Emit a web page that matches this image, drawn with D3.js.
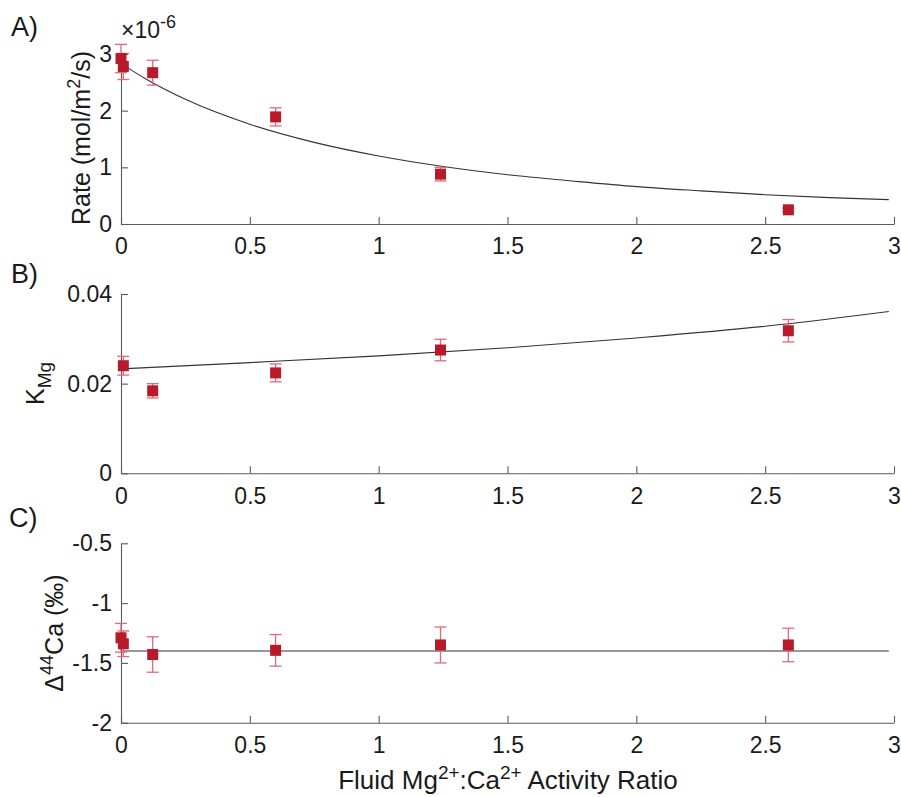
<!DOCTYPE html>
<html>
<head>
<meta charset="utf-8">
<script src="https://cdn.jsdelivr.net/npm/d3@7"></script>
<style>
  html, body { margin: 0; padding: 0; background: #fff; }
  svg text { font-family: "Liberation Sans", Arial, Helvetica, sans-serif; fill: #1a1a1a; }
</style>
</head>
<body>
<svg id="chart" width="901" height="797"></svg>
<script>
// Fluid Mg:Ca activity ratio for each experiment
const ratioA = [0, 0.009, 0.123, 0.60, 1.24, 2.59];
const ratioB = [0.009, 0.123, 0.60, 1.24, 2.59];
const ratioC = [0, 0.009, 0.123, 0.60, 1.24, 2.59];

// A) precipitation rate, units of 1e-6 mol/m2/s
const rateVals = [2.92, 2.78, 2.67, 1.89, 0.88, 0.25];
const rateErr  = [0.25, 0.23, 0.22, 0.16, 0.12, 0.03];
// fitted rate curve (x, rate)
const rateFitX = [0, 0.1, 0.25, 0.5, 0.75, 1, 1.25, 1.5, 1.75, 2, 2.25, 2.5, 2.75, 2.98];
const rateFitY = [2.83, 2.55, 2.20, 1.76, 1.44, 1.20, 1.015, 0.87, 0.76, 0.66, 0.585, 0.517, 0.465, 0.43];

// B) Mg partition coefficient
const kVals = [0.0240, 0.0184, 0.0224, 0.0275, 0.0318];
const kErr  = [0.0021, 0.0016, 0.0020, 0.0024, 0.0025];
const kFitX = [0, 0.5, 1, 1.5, 2, 2.5, 2.98];
const kFitY = [0.0233, 0.0247, 0.0262, 0.0280, 0.0302, 0.0328, 0.0361];

// C) Ca isotope fractionation, permil
const dCaVals = [-1.29, -1.34, -1.43, -1.395, -1.35, -1.35];
const dCaErr  = [0.12, 0.107, 0.148, 0.132, 0.15, 0.14];
const dCaFitX = [0, 2.98];
const dCaFitY = [-1.40, -1.40];

const xTicks = [0, 0.5, 1, 1.5, 2, 2.5, 3];
const xTickLabels = ["0", "0.5", "1", "1.5", "2", "2.5", "3"];
const yTicksA = [0, 1, 2, 3];
const yTicksB = [0, 0.02, 0.04];
const yTickLabelsB = ["0", "0.02", "0.04"];
const yTicksC = [-2, -1.5, -1, -0.5];
const yTickLabelsC = ["-2", "-1.5", "-1", "-0.5"];

const svg = d3.select("#chart");
const markerColor = "#b8192b";
const errColor = "#e46878";
const axisColor = "#5a5a5a";
const tickFont = 23;
const labelFont = 25;

const x = d3.scaleLinear().domain([0, 3]).range([121, 894]);

function panel(cfg) {
  const y = d3.scaleLinear().domain(cfg.yDomain).range(cfg.yRange);
  const g = svg.append("g");

  const xAxis = d3.axisBottom(x).tickValues(xTicks)
    .tickFormat((d, i) => xTickLabels[i])
    .tickSizeInner(-7).tickSizeOuter(0).tickPadding(14);
  const gx = g.append("g").attr("transform", `translate(0,${cfg.yRange[0]})`).call(xAxis);

  const yAxis = d3.axisLeft(y).tickValues(cfg.yTicks)
    .tickFormat((d, i) => cfg.yTickLabels[i])
    .tickSizeInner(-7).tickSizeOuter(0).tickPadding(9);
  const gy = g.append("g").attr("transform", `translate(${x(0)},0)`).call(yAxis);

  [gx, gy].forEach(ax => {
    ax.select(".domain").attr("stroke", axisColor).attr("stroke-width", 1.1);
    ax.selectAll(".tick line").attr("stroke", axisColor).attr("stroke-width", 1.1);
    ax.selectAll(".tick text").attr("font-size", tickFont)
      .style("font-family", "'Liberation Sans', Arial, sans-serif").attr("fill", "#1a1a1a");
  });

  // fitted line
  const line = d3.line().x(d => x(d[0])).y(d => y(d[1])).curve(d3.curveMonotoneX);
  g.append("path")
    .datum(cfg.fitX.map((v, i) => [v, cfg.fitY[i]]))
    .attr("d", line).attr("fill", "none")
    .attr("stroke", "#333").attr("stroke-width", 1.1);

  const pts = cfg.xs.map((v, i) => ({ x: v, y: cfg.vals[i], e: cfg.errs[i] }));

  // error bars
  const eb = g.append("g").attr("stroke", errColor).attr("stroke-width", 1.3).attr("fill", "none");
  pts.forEach(p => {
    const cx = x(p.x), y1 = y(p.y + p.e), y2 = y(p.y - p.e);
    eb.append("line").attr("x1", cx).attr("x2", cx).attr("y1", y1).attr("y2", y2);
    eb.append("line").attr("x1", cx - 6).attr("x2", cx + 6).attr("y1", y1).attr("y2", y1);
    eb.append("line").attr("x1", cx - 6).attr("x2", cx + 6).attr("y1", y2).attr("y2", y2);
  });

  // square markers
  g.append("g").selectAll("rect").data(pts).join("rect")
    .attr("x", d => x(d.x) - 5.5).attr("y", d => y(d.y) - 5.5)
    .attr("width", 11).attr("height", 11)
    .attr("fill", markerColor);

  // panel letter
  svg.append("text").attr("x", cfg.letterX).attr("y", cfg.letterY)
    .attr("font-size", 27).text(cfg.letter);

  return y;
}

panel({
  yDomain: [0, 3], yRange: [224, 54], yTicks: yTicksA, yTickLabels: ["0", "1", "2", "3"],
  fitX: rateFitX, fitY: rateFitY, xs: ratioA, vals: rateVals, errs: rateErr,
  letter: "A)", letterX: 11, letterY: 36
});
panel({
  yDomain: [0, 0.04], yRange: [473.3, 294], yTicks: yTicksB, yTickLabels: yTickLabelsB,
  fitX: kFitX, fitY: kFitY, xs: ratioB, vals: kVals, errs: kErr,
  letter: "B)", letterX: 11, letterY: 283
});
panel({
  yDomain: [-2, -0.5], yRange: [722.7, 543.3], yTicks: yTicksC, yTickLabels: yTickLabelsC,
  fitX: dCaFitX, fitY: dCaFitY, xs: ratioC, vals: dCaVals, errs: dCaErr,
  letter: "C)", letterX: 9, letterY: 527
});

// exponent multiplier for panel A
const mult = svg.append("text").attr("x", 121).attr("y", 38).attr("font-size", 23);
mult.append("tspan").text("\u00d710");
mult.append("tspan").attr("dy", -10).attr("font-size", 18).text("-6");

// y-axis titles
const tA = svg.append("text").attr("transform", "translate(90,138) rotate(-90)")
  .attr("text-anchor", "middle").attr("font-size", labelFont);
tA.append("tspan").text("Rate (mol/m");
tA.append("tspan").attr("dy", -10).attr("font-size", 18).text("2");
tA.append("tspan").attr("dy", 10).text("/s)");

const tB = svg.append("text").attr("transform", "translate(44,383.5) rotate(-90)")
  .attr("text-anchor", "middle").attr("font-size", labelFont);
tB.append("tspan").text("K");
tB.append("tspan").attr("dy", 7).attr("font-size", 19).text("Mg");

const tC = svg.append("text").attr("transform", "translate(63,633) rotate(-90)")
  .attr("text-anchor", "middle").attr("font-size", labelFont);
tC.append("tspan").text("\u0394");
tC.append("tspan").attr("dy", -10).attr("font-size", 18).text("44");
tC.append("tspan").attr("dy", 10).text("Ca (\u2030)");

// x-axis title
const tX = svg.append("text").attr("x", 508).attr("y", 789)
  .attr("text-anchor", "middle").attr("font-size", 26);
tX.append("tspan").text("Fluid Mg");
tX.append("tspan").attr("dy", -10).attr("font-size", 19).text("2+");
tX.append("tspan").attr("dy", 10).text(":Ca");
tX.append("tspan").attr("dy", -10).attr("font-size", 19).text("2+");
tX.append("tspan").attr("dy", 10).text(" Activity Ratio");
</script>
</body>
</html>
